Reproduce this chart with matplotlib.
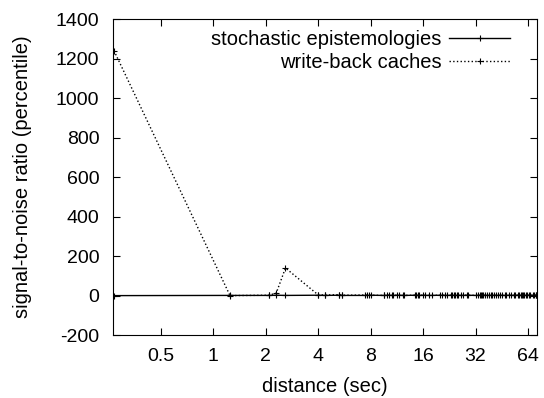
import numpy as np
import matplotlib
matplotlib.use("Agg")
import matplotlib.pyplot as plt

plt.rcParams['font.family'] = ['Liberation Sans', 'DejaVu Sans']
plt.rcParams['axes.unicode_minus'] = False

# stochastic epistemologies (solid)
x_stoch = [0.27, 1.25, 2.08, 2.3, 2.6, 4.0, 4.4, 5.3, 5.5, 7.6, 8.0, 9.6, 10.2, 10.8, 11.6, 12.5,
           14.6, 15.2, 16.0, 17.2, 20.5, 21.5, 23.5, 24.5, 25.5, 27.0, 28.5, 32.0, 34.0, 35.0,
           36.5, 38.0, 40.0, 42.0, 44.5, 47.0, 50.0, 53.0, 56.0, 58.0, 60.0, 62.0, 65.0, 68.0, 71.0]
y_stoch = [0, 1, 1, 2, 1, 2, 1, 2, 1, 1, 2, 1, 2, 1, 2, 1,
           2, 1, 2, 1, 2, 1, 2, 1, 2, 1, 2, 1, 2, 1,
           2, 1, 2, 1, 2, 1, 2, 1, 2, 1, 2, 1, 2, 1, 2]

# write-back caches (dotted)
x_wb = [0.27, 1.25, 2.08, 2.3, 2.6, 4.0, 4.4, 5.3, 5.5, 7.4, 7.8, 9.5, 10.0, 10.6, 11.4, 12.3,
        14.4, 15.0, 16.5, 18.0, 20.0, 22.0, 23.0, 24.0, 25.0, 26.5, 29.0, 33.0, 34.5, 35.5,
        37.0, 39.0, 41.0, 43.0, 45.5, 48.0, 51.0, 54.0, 57.0, 59.0, 61.0, 63.0, 66.0, 69.0, 71.0]
y_wb = [1240, 0, 2, 12, 140, 4, 3, 5, 2, 3, 2, 1, 2, 1, 2, 1,
        2, 1, 2, 1, 2, 1, 2, 1, 2, 1, 2, 1, 2, 1,
        2, 1, 2, 1, 2, 1, 2, 1, 2, 1, 2, 1, 2, 1, 2]

fs = 14

fig, ax = plt.subplots(figsize=(5.44, 3.98), dpi=100)
fig.subplots_adjust(left=0.208, right=0.987, top=0.952, bottom=0.158)

ax.plot(x_stoch, y_stoch, '-', color='black', lw=1, marker='+', ms=5, mew=0.8,
        label='stochastic epistemologies')
ax.plot(x_wb, y_wb, ':', color='black', lw=1, marker='+', ms=5, mew=0.8,
        label='write-back caches')

ax.set_xscale('log', base=2)
ax.set_xlim(0.267, 72)
ax.set_ylim(-200, 1400)
xt = [0.5, 1, 2, 4, 8, 16, 32, 64]
ax.set_xticks(xt)
ax.set_xticklabels(['0.5', '1', '2', '4', '8', '16', '32', '64'])
ax.minorticks_off()
ax.set_yticks(np.arange(-200, 1401, 200))
ax.tick_params(direction='in', top=True, right=True, length=5, width=0.8,
               labelsize=fs)
ax.tick_params(axis='x', pad=9)
ax.tick_params(axis='y', pad=10)
ax.set_xlabel('distance (sec)', fontsize=14.5, labelpad=9)
ax.set_ylabel('signal-to-noise ratio (percentile)', fontsize=14.5, labelpad=17)

leg = ax.legend(loc='upper right', bbox_to_anchor=(0.936, 0.966), frameon=False,
                markerfirst=False, fontsize=14.5, handlelength=3.0, handletextpad=0.4,
                borderaxespad=0, borderpad=0, labelspacing=0.22)
for col in leg._legend_handle_box.get_children():
    col.align = 'right'

fig.savefig('out.png', dpi=100)
